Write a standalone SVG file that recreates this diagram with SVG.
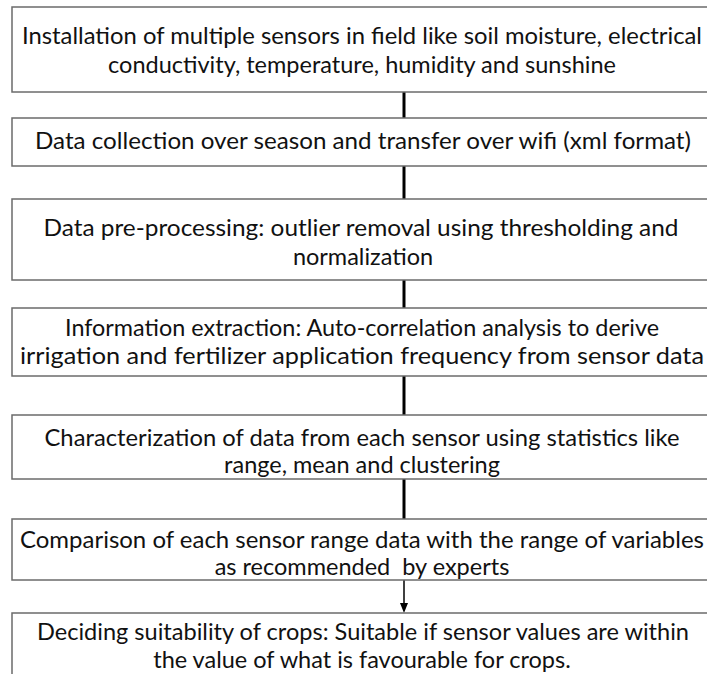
<svg xmlns="http://www.w3.org/2000/svg" width="707" height="674" viewBox="0 0 707 674">
<style>
.box{fill:#fff;stroke:#6b6b6b;stroke-width:1.5}
.t{font-family:Lato,"Open Sans","Liberation Sans",sans-serif;font-size:23.5px;fill:#111;text-anchor:middle}
.c{stroke:#000;stroke-width:3;fill:none}
.a{stroke:#000;stroke-width:1.5;fill:none}
</style>
<rect width="707" height="674" fill="#fff"/>
<g id="connectors">
<line class="c" x1="404" y1="92" x2="404" y2="118"/>
<line class="c" x1="404" y1="166" x2="404" y2="199"/>
<line class="c" x1="404" y1="280" x2="404" y2="308"/>
<line class="c" x1="404" y1="376" x2="404" y2="415"/>
<line class="c" x1="404" y1="479" x2="404" y2="519"/>
<line class="a" x1="404" y1="580" x2="404" y2="605"/>
<path d="M400,603 L408,603 L404,613 Z" fill="#000"/>
</g>
<g id="n1">
<rect class="box" x="12" y="7" width="700" height="85"/>
<text class="t" x="362" y="44" textLength="680" lengthAdjust="spacingAndGlyphs">Installation of multiple sensors in field like soil moisture, electrical</text>
<text class="t" x="362" y="73">conductivity, temperature, humidity and sunshine</text>
</g>
<g id="n2">
<rect class="box" x="12" y="118" width="700" height="48"/>
<text class="t" x="363" y="149" textLength="656" lengthAdjust="spacingAndGlyphs">Data collection over season and transfer over wifi (xml format)</text>
</g>
<g id="n3">
<rect class="box" x="12" y="199" width="700" height="81"/>
<text class="t" x="361" y="236" textLength="635" lengthAdjust="spacingAndGlyphs">Data pre-processing: outlier removal using thresholding and</text>
<text class="t" x="363" y="265">normalization</text>
</g>
<g id="n4">
<rect class="box" x="12" y="308" width="700" height="68"/>
<text class="t" x="362" y="336" textLength="594" lengthAdjust="spacingAndGlyphs">Information extraction: Auto-correlation analysis to derive</text>
<text class="t" x="362" y="364" textLength="684" lengthAdjust="spacingAndGlyphs">irrigation and fertilizer application frequency from sensor data</text>
</g>
<g id="n5">
<rect class="box" x="12" y="415" width="700" height="64"/>
<text class="t" x="362" y="446" textLength="635" lengthAdjust="spacingAndGlyphs">Characterization of data from each sensor using statistics like</text>
<text class="t" x="362" y="473">range, mean and clustering</text>
</g>
<g id="n6">
<rect class="box" x="12" y="519" width="700" height="61"/>
<text class="t" x="362" y="548" textLength="684" lengthAdjust="spacingAndGlyphs">Comparison of each sensor range data with the range of variables</text>
<text class="t" x="362" y="575" xml:space="preserve">as recommended  by experts</text>
</g>
<g id="n7">
<rect class="box" x="12" y="613" width="700" height="70"/>
<text class="t" x="363" y="640" textLength="652" lengthAdjust="spacingAndGlyphs">Deciding suitability of crops: Suitable if sensor values are within</text>
<text class="t" x="362" y="668">the value of what is favourable for crops.</text>
</g>
</svg>
